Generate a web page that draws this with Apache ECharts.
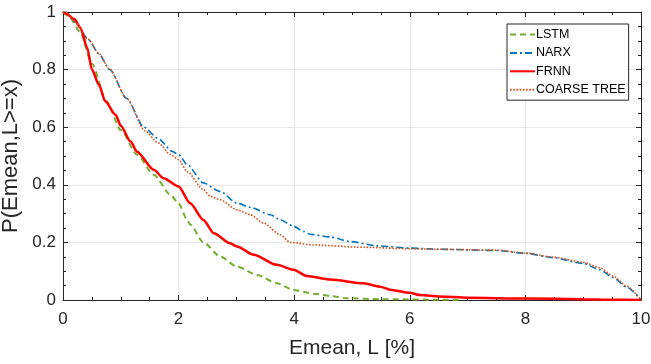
<!DOCTYPE html>
<html>
<head>
<meta charset="utf-8">
<script src="https://cdn.jsdelivr.net/npm/echarts@6/dist/echarts.min.js"></script>
<style>html,body{margin:0;padding:0;background:#fff}#c{width:651px;height:364px}</style>
</head>
<body>
<div id="c"></div>
<script>
// ---- data ----
const seriesNames = ['LSTM', 'NARX', 'FRNN', 'COARSE TREE'];
const xTicks = [0, 2, 4, 6, 8, 10];
const yTicks = [0, 0.2, 0.4, 0.6, 0.8, 1];

const lstmX = [0, 0.1, 0.3, 0.5, 0.75, 1.0, 1.28, 1.57, 1.86, 2.0, 2.15, 2.2, 2.43, 2.72, 3.01, 3.36, 3.7, 3.99, 4.33, 4.62, 4.91, 5.49, 6.0, 6.5, 6.9];
const lstmY = [1, 0.985, 0.93, 0.82, 0.69, 0.59, 0.505, 0.435, 0.365, 0.336, 0.278, 0.262, 0.2, 0.151, 0.116, 0.087, 0.058, 0.035, 0.022, 0.014, 0.006, 0.003, 0.002, 0.001, 0];

const narxX = [0, 0.05, 0.21, 0.44, 0.62, 0.81, 1.1, 1.4, 1.65, 1.89, 2.0, 2.15, 2.43, 2.72, 3.01, 3.24, 3.59, 3.76, 3.99, 4.16, 4.28, 4.62, 4.97, 5.43, 6.0, 6.52, 7.5, 8.0, 8.48, 9.0, 9.29, 9.52, 9.75, 10];
const narxY = [1, 1, 0.965, 0.905, 0.855, 0.8, 0.7, 0.6, 0.56, 0.516, 0.505, 0.47, 0.406, 0.377, 0.336, 0.322, 0.296, 0.278, 0.256, 0.238, 0.228, 0.219, 0.203, 0.188, 0.18, 0.176, 0.172, 0.162, 0.147, 0.127, 0.105, 0.078, 0.045, 0];

const frnnX = [0, 0.05, 0.2, 0.3, 0.42, 0.5, 0.62, 0.73, 0.91, 1.0, 1.17, 1.28, 1.57, 1.74, 2.0, 2.2, 2.43, 2.61, 2.89, 3.01, 3.3, 3.7, 3.99, 4.22, 4.62, 5.2, 5.49, 5.66, 6.0, 6.18, 6.52, 7.0, 8.0, 9.0, 9.5, 10];
const frnnY = [1, 0.995, 0.975, 0.945, 0.875, 0.8, 0.748, 0.69, 0.643, 0.605, 0.55, 0.515, 0.452, 0.423, 0.394, 0.336, 0.278, 0.232, 0.197, 0.186, 0.157, 0.122, 0.105, 0.083, 0.071, 0.058, 0.046, 0.036, 0.025, 0.017, 0.012, 0.008, 0.005, 0.003, 0.001, 0];

const treeX = [0, 0.05, 0.21, 0.44, 0.62, 0.81, 1.1, 1.42, 1.65, 1.86, 2.0, 2.15, 2.43, 2.55, 2.72, 3.01, 3.24, 3.47, 3.76, 3.93, 4.33, 5.2, 6.0, 6.52, 7.5, 8.0, 8.48, 9.0, 9.29, 9.52, 9.75, 10];
const treeY = [1, 1, 0.965, 0.905, 0.855, 0.8, 0.7, 0.587, 0.545, 0.505, 0.487, 0.445, 0.383, 0.36, 0.348, 0.313, 0.296, 0.267, 0.226, 0.2, 0.191, 0.183, 0.178, 0.176, 0.173, 0.163, 0.149, 0.131, 0.112, 0.083, 0.048, 0];

const pairs = (xs, ys) => xs.map((x, i) => [x, ys[i]]);

const FONT = '"Liberation Sans", Arial, sans-serif';
const AX = '#262626';

function xAx(pos, labels) {
  return {
    type: 'value', position: pos, min: 0, max: 10, interval: 2,
    name: labels ? 'Emean, L [%]' : '', nameLocation: 'middle', nameGap: 38,
    nameTextStyle: { fontFamily: FONT, fontSize: 21, color: AX },
    axisLine: { show: true, onZero: false, lineStyle: { color: AX, width: 1 } },
    axisTick: { show: true, inside: true, length: 5, lineStyle: { color: AX } },
    minorTick: { show: true, splitNumber: 4, length: 3, lineStyle: { color: AX } },
    axisLabel: { show: labels, fontFamily: FONT, fontSize: 17, color: AX, margin: 11,
      formatter: v => xTicks.includes(v) ? String(v) : '' },
    splitLine: { show: labels, lineStyle: { color: '#e8e8e8', width: 1 } },
    minorSplitLine: { show: false }
  };
}
function yAx(pos, labels) {
  return {
    type: 'value', position: pos, min: 0, max: 1, interval: 0.2,
    name: labels ? 'P(Emean,L>=x)' : '', nameLocation: 'middle', nameGap: 37,
    nameTextStyle: { fontFamily: FONT, fontSize: 22, color: AX },
    axisLine: { show: true, onZero: false, lineStyle: { color: AX, width: 1 } },
    axisTick: { show: true, inside: true, length: 5, lineStyle: { color: AX } },
    minorTick: { show: true, splitNumber: 4, length: 3, lineStyle: { color: AX } },
    axisLabel: { show: labels, fontFamily: FONT, fontSize: 17, color: AX, margin: 7,
      formatter: v => { const t = yTicks.find(a => Math.abs(a - v) < 1e-9); return t === undefined ? '' : String(t); } },
    splitLine: { show: labels, lineStyle: { color: '#e8e8e8', width: 1 } }
  };
}

function lineSeries(name, xs, ys, color, width, type, z) {
  return {
    name, type: 'line', showSymbol: false, symbol: 'none', data: pairs(xs, ys),
    smooth: 0.25, smoothMonotone: 'x',
    lineStyle: { color, width, type }, itemStyle: { color }, z
  };
}

const chart = echarts.init(document.getElementById('c'), null, { renderer: 'canvas' });
chart.setOption({
  animation: false,
  backgroundColor: '#fff',
  grid: { left: 63, right: 10, top: 12, bottom: 64, containLabel: false, outerBoundsMode: 'none' },
  xAxis: [xAx('bottom', true), xAx('top', false)],
  yAxis: [yAx('left', true), yAx('right', false)],
  legend: {
    orient: 'vertical', left: 507, top: 24,
    padding: [4, 3, 4, 2], itemGap: 5.4, itemWidth: 25, itemHeight: 13.5,
    backgroundColor: '#fff', borderColor: AX, borderWidth: 1, borderRadius: 0,
    itemStyle: { opacity: 0, borderWidth: 0 },
    textStyle: { fontFamily: FONT, fontSize: 12.5, color: '#000', padding: [0, 0, 0, -4] },
    data: seriesNames
  },
  series: [
    lineSeries(seriesNames[0], lstmX, lstmY, '#77AC30', 2, [6, 4], 2),
    lineSeries(seriesNames[1], narxX, narxY, '#0072BD', 1.6, [7, 3, 2, 3], 3),
    lineSeries(seriesNames[2], frnnX, frnnY, '#FF0000', 2.5, 'solid', 4),
    lineSeries(seriesNames[3], treeX, treeY, '#D95319', 1.6, [1.6, 1.6], 5)
  ]
});
</script>
</body>
</html>
